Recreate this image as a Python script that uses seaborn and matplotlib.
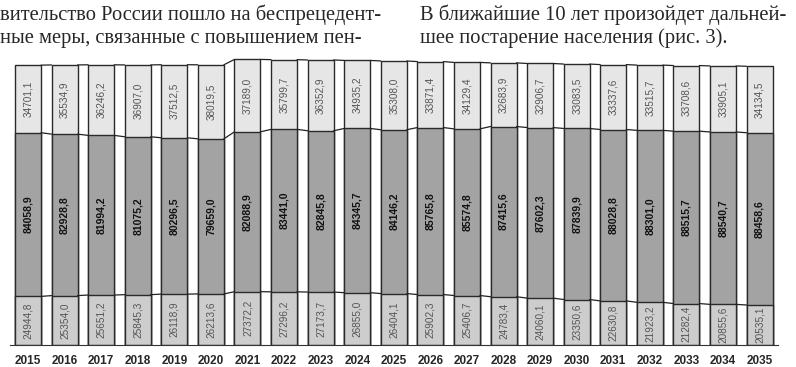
import matplotlib
matplotlib.use("Agg")
import matplotlib.pyplot as plt
import seaborn as sns
import numpy as np
import pandas as pd

years = [str(y) for y in range(2015, 2036)]
younger = [24944.8, 25354.0, 25651.2, 25845.3, 26118.9, 26213.6, 27372.2, 27296.2, 27173.7, 26855.0,
           26404.1, 25902.3, 25406.7, 24783.4, 24060.1, 23350.6, 22630.8, 21923.2, 21282.4, 20855.6, 20535.1]
working = [84058.9, 82928.8, 81994.2, 81075.2, 80296.5, 79659.0, 82088.9, 83441.0, 82845.8, 84345.7,
           84146.2, 85765.8, 85574.8, 87415.6, 87602.3, 87839.9, 88028.8, 88301.0, 88515.7, 88540.7, 88458.6]
older = [34701.1, 35534.9, 36246.2, 36907.0, 37512.5, 38019.5, 37189.0, 35799.7, 36352.9, 34935.2,
         35308.0, 33871.4, 34129.4, 32683.9, 32906.7, 33083.5, 33337.6, 33515.7, 33708.6, 33905.1, 34134.5]

text_left = ["вительство России пошло на беспрецедент-", "ные меры, связанные с повышением пен-"]
text_right = ["В ближайшие 10 лет произойдет дальней-", "шее постарение населения (рис. 3)."]

y1 = np.array(younger)
y2 = y1 + np.array(working)
y3 = y2 + np.array(older)
df = pd.DataFrame({"year": years, "b": y1, "m": y2, "t": y3})

sns.set_style("white")
plt.rcParams["font.family"] = ["Liberation Sans", "DejaVu Sans"]

fig = plt.figure(figsize=(7.96, 3.67), dpi=100)
ax = fig.add_axes([0.0122, 0.06, 0.965, 0.79])

W = 0.71
ec = "#2a2a2a"
sns.barplot(data=df, x="year", y="t", color="#e6e6e6", width=W, saturation=1,
            edgecolor=ec, linewidth=1.0, ax=ax)
sns.barplot(data=df, x="year", y="m", color="#a3a3a3", width=W, saturation=1,
            edgecolor=ec, linewidth=1.0, ax=ax)
sns.barplot(data=df, x="year", y="b", color="#cdcdcd", width=W, saturation=1,
            edgecolor=ec, linewidth=1.0, ax=ax)

# series lines between adjacent bars
n = len(years)
for cum in (y1, y2, y3):
    for i in range(n - 1):
        ax.plot([i + W / 2, i + 1 - W / 2], [cum[i], cum[i + 1]], color="#222222", lw=0.9)

def fmt(v):
    return f"{v:.1f}".replace(".", ",")

for i in range(n):
    ax.text(i, y1[i] / 2, fmt(younger[i]), rotation=90, ha="center", va="center",
            fontsize=7.2, color="#555555")
    ax.text(i, (y1[i] + y2[i]) / 2, fmt(working[i]), rotation=90, ha="center", va="center",
            fontsize=7.5, color="#111111", fontweight="bold")
    ax.text(i, (y2[i] + y3[i]) / 2, fmt(older[i]), rotation=90, ha="center", va="center",
            fontsize=7.2, color="#555555")

ax.set_xlim(-0.5, n - 0.5)
ax.set_ylim(0, 148900)
ax.set_yticks([])
ax.set_xlabel("")
ax.set_ylabel("")
for s in ("left", "right", "top"):
    ax.spines[s].set_visible(False)
ax.spines["bottom"].set_color("#333333")
ax.spines["bottom"].set_linewidth(0.8)
ax.set_xticks(range(n))
ax.set_xticklabels(years, fontsize=8.5, fontweight="bold")
ax.tick_params(axis="x", which="major", length=0, pad=7)
ax.set_xticks(np.arange(-0.5, n, 1.0), minor=True)
ax.tick_params(axis="x", which="minor", length=4, width=0.8, color="#333333", direction="out")

serif = ["Liberation Serif", "DejaVu Serif"]
for k, line in enumerate(text_left):
    fig.text(0.0, 1 - (15 + 23 * k) / 367, line, fontsize=14.8, family=serif, va="center", ha="left")
for k, line in enumerate(text_right):
    fig.text(420 / 796, 1 - (15 + 23 * k) / 367, line, fontsize=14.8, family=serif, va="center", ha="left")

fig.savefig("out.png", dpi=100)
